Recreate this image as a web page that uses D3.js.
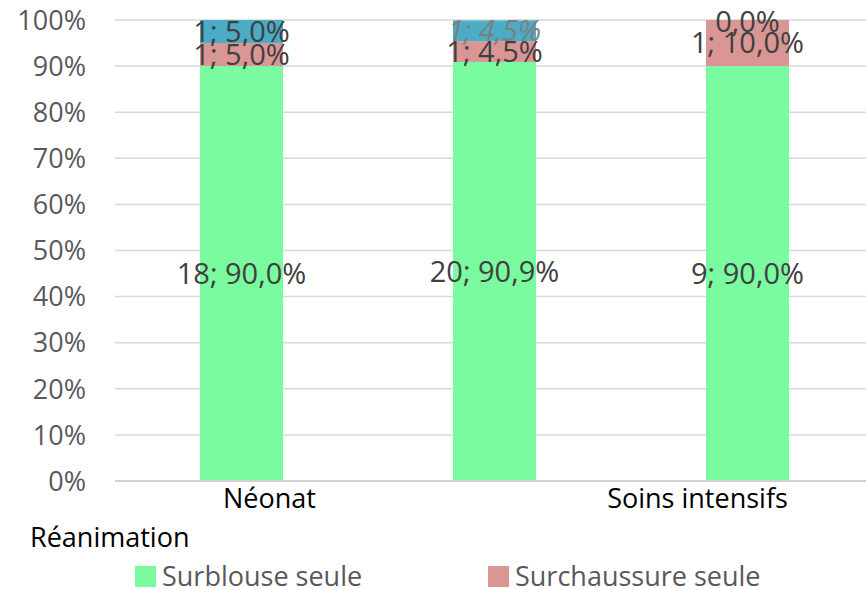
<!DOCTYPE html>
<html>
<head>
<meta charset="utf-8">
<script src="https://cdn.jsdelivr.net/npm/d3@7"></script>
<style>
  body { margin: 0; background: #fff; }
  svg text { font-family: "Open Sans", sans-serif; }
</style>
</head>
<body>
<svg width="866" height="589"></svg>
<script>
var width = 866,
    height = 589

// data
var categories = ["Néonat", "Réanimation", "Soins intensifs"]
var surblouse = [18, 20, 9]
var surchaussure = [1, 1, 1]
var autre = [1, 1, 0]
var surblousePct = [90.0, 90.9, 90.0]
var surchaussurePct = [5.0, 4.5, 10.0]
var autrePct = [5.0, 4.5, 0.0]
var yTicks = [0, 10, 20, 30, 40, 50, 60, 70, 80, 90, 100]

var series = [
    { name: "Surblouse seule", counts: surblouse, pct: surblousePct, color: "#7afba0" },
    { name: "Surchaussure seule", counts: surchaussure, pct: surchaussurePct, color: "#da9694" },
    { name: "", counts: autre, pct: autrePct, color: "#4bacc6" }
]

var svg = d3.select("svg")

var xScale = d3.scaleBand()
    .domain(categories)
    .range([115, 874])

var yScale = d3.scaleLinear()
    .domain([0, 100])
    .range([481, 20])

var barWidth = 83

// gridlines
svg.append("g")
    .selectAll("line")
    .data(yTicks)
    .enter()
    .append("line")
    .attr("x1", 115)
    .attr("x2", width)
    .attr("y1", function(d) { return yScale(d) })
    .attr("y2", function(d) { return yScale(d) })
    .attr("stroke", "#d9d9d9")
    .attr("stroke-width", 1.5)

// y tick labels
svg.append("g")
    .selectAll("text")
    .data(yTicks)
    .enter()
    .append("text")
    .attr("x", 86)
    .attr("y", function(d) { return yScale(d) })
    .attr("dy", "0.36em")
    .attr("text-anchor", "end")
    .attr("font-size", 27)
    .attr("fill", "#595959")
    .text(function(d) { return d + "%" })

// stack the percentages
var stacked = categories.map(function(c, i) {
    var base = 0
    return series.map(function(s, k) {
        var seg = { cat: c, i: i, k: k, y0: base, y1: base + s.pct[i], n: s.counts[i], p: s.pct[i], color: s.color }
        base += s.pct[i]
        return seg
    })
})
var segments = d3.merge(stacked)

svg.append("g")
    .selectAll("rect")
    .data(segments.filter(function(d) { return d.p > 0 }))
    .enter()
    .append("rect")
    .attr("x", function(d) { return xScale(d.cat) + xScale.bandwidth() / 2 - barWidth / 2 })
    .attr("width", barWidth)
    .attr("y", function(d) { return yScale(Math.min(d.y1, 100)) })
    .attr("height", function(d) { return yScale(d.y0) - yScale(Math.min(d.y1, 100)) })
    .attr("fill", function(d) { return d.color })

// axis line
svg.append("line")
    .attr("x1", 115)
    .attr("x2", width)
    .attr("y1", yScale(0))
    .attr("y2", yScale(0))
    .attr("stroke", "#d0d0d0")
    .attr("stroke-width", 2)

function fmt(v) {
    return v.toFixed(1).replace(".", ",") + "%"
}

// data labels
svg.append("g")
    .selectAll("text")
    .data(segments)
    .enter()
    .append("text")
    .attr("x", function(d) { return xScale(d.cat) + xScale.bandwidth() / 2 })
    .attr("y", function(d) {
        if (d.p == 0) return yScale(100) + 2
        return yScale((d.y0 + Math.min(d.y1, 100)) / 2)
    })
    .attr("dy", "0.36em")
    .attr("text-anchor", "middle")
    .attr("font-size", 29)
    .attr("fill", function(d) { return (d.k == 2 && d.i == 1) ? "#7f7f7f" : "#404040" })
    .attr("font-style", function(d) { return (d.k == 2 && d.i == 1) ? "italic" : "normal" })
    .text(function(d) { return d.p == 0 ? fmt(d.p) : d.n + "; " + fmt(d.p) })

// category labels (Excel put the middle one on a second row at the left)
var catLabel = svg.append("g").attr("font-size", 27).attr("fill", "#000")
catLabel.append("text")
    .attr("x", xScale(categories[0]) + xScale.bandwidth() / 2 + 28)
    .attr("y", 508)
    .attr("text-anchor", "middle")
    .text(categories[0])
catLabel.append("text")
    .attr("x", 30)
    .attr("y", 547)
    .text(categories[1])
catLabel.append("text")
    .attr("x", xScale(categories[2]) + xScale.bandwidth() / 2 - 50)
    .attr("y", 508)
    .attr("text-anchor", "middle")
    .text(categories[2])

// legend
var legendX = [135, 488]
var legend = svg.append("g")
    .selectAll("g")
    .data(series.slice(0, 2))
    .enter()
    .append("g")
    .attr("transform", function(d, i) { return "translate(" + legendX[i] + ",566)" })
legend.append("rect")
    .attr("width", 21)
    .attr("height", 21)
    .attr("fill", function(d) { return d.color })
legend.append("text")
    .attr("x", 27)
    .attr("y", 20)
    .attr("font-size", 27)
    .attr("fill", "#595959")
    .text(function(d) { return d.name })
</script>
</body>
</html>
